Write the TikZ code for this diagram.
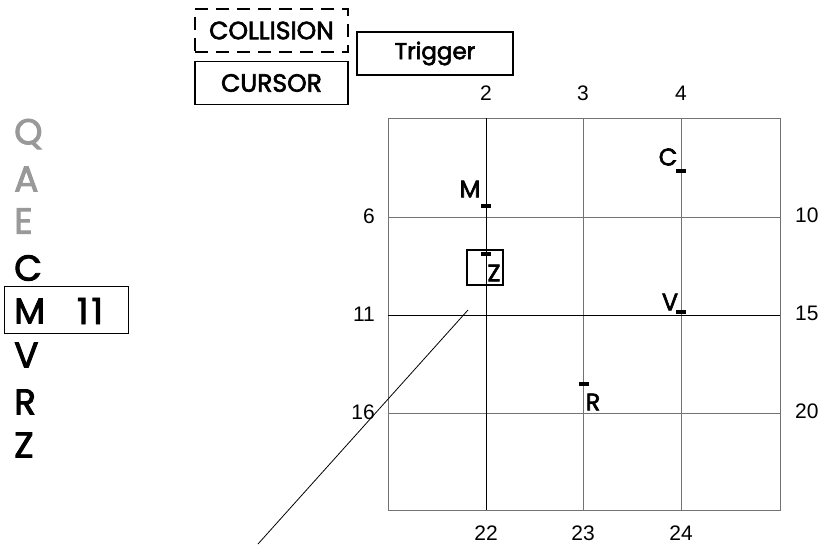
\documentclass[tikz,border=0pt]{standalone}
\usepackage{fontspec}
\setmainfont{Poppins}
\newfontfamily\medfont{Poppins}[FakeBold=2.5]
\newfontfamily\numfont{Liberation Sans}
\begin{document}
\begin{tikzpicture}[x=1pt,y=-1pt,
  gridgray/.style={draw=black!55,line width=0.9pt},
  gridblack/.style={draw=black,line width=0.9pt},
  bar/.style={fill=black,minimum width=10pt,minimum height=4pt,inner sep=0pt},
  mlabel/.style={font=\medfont\fontsize{24}{24}\selectfont,inner sep=0pt},
  num/.style={font=\numfont\fontsize{21}{21}\selectfont,inner sep=0pt},
  listitem/.style={font=\medfont\fontsize{36}{36}\selectfont,inner sep=0pt,anchor=west},
  topbox/.style={draw,line width=1.5pt,minimum width=153pt,minimum height=43pt,inner sep=0pt,font=\medfont\fontsize{25}{25}\selectfont}]
\useasboundingbox (0,0) rectangle (827,545);
% grid
\draw[gridgray] (388,118) rectangle (780,510);
\draw[gridgray] (583,118) -- (583,510);
\draw[gridgray] (681,118) -- (681,510);
\draw[gridgray] (388,217) -- (780,217);
\draw[gridgray] (388,413) -- (780,413);
\draw[gridblack] (486,118) -- (486,510);
\draw[gridblack] (388,315) -- (780,315);
% axis numbers
\node[num] (t2) at (486,93) {2};
\node[num] (t3) at (583,93) {3};
\node[num] (t4) at (681,93) {4};
\node[num] (b22) at (486,533) {22};
\node[num] (b23) at (583,533) {23};
\node[num] (b24) at (681,533) {24};
\node[num,anchor=east] (l6) at (375,216) {6};
\node[num,anchor=east] (l11) at (375,314) {11};
\node[num,anchor=east] (l16) at (375,412) {16};
\node[num,anchor=west] (r10) at (795,215) {10};
\node[num,anchor=west] (r15) at (795,313) {15};
\node[num,anchor=west] (r20) at (795,411) {20};
% markers
\node[bar] (mM) at (486,206.5) {};
\node[bar] (mZ) at (486,254.5) {};
\node[bar] (mC) at (681,171) {};
\node[bar] (mV) at (681,311.5) {};
\node[bar] (mR) at (584,384) {};
\node[mlabel] (lM) at (470,189) {M};
\node[mlabel] (lC) at (668,157) {C};
\node[mlabel] (lV) at (670,302) {V};
\node[mlabel] (lR) at (593,402) {R};
\node[mlabel] (lZ) at (494,273) {Z};
\node[draw,line width=1.5pt,minimum width=36pt,minimum height=35pt,inner sep=0pt] (zbox) at (485,267.5) {};
% diagonal line
\coordinate (d1) at (258,544);
\coordinate (d2) at (468,310);
\draw[line width=0.8pt] (d1) -- (d2);
% top boxes
\node[topbox,dash pattern=on 13pt off 8pt] (coll) at (271.5,30.5) {COLLISION};
\node[topbox] (curs) at (271.5,83) {CURSOR};
\node[topbox,minimum width=156pt,font=\medfont\fontsize{23}{23}\selectfont] (trig) at (435,53.5) {Trigger};
% left list
\node[listitem,text=black!40] (iQ) at (14,134) {Q};
\node[listitem,text=black!40] (iA) at (14,179) {A};
\node[listitem,text=black!40] (iE) at (14,221) {E};
\node[listitem] (iC) at (14,268) {C};
\node[draw,line width=1pt,minimum width=124pt,minimum height=46pt,inner sep=0pt] (mbox) at (66,310) {};
\node[listitem] (iM) at (14,311) {M};
\node[listitem,anchor=center] (i11) at (90,311) {1\kern3pt 1};
\node[listitem] (iV) at (14,355) {V};
\node[listitem] (iR) at (14,402) {R};
\node[listitem] (iZ) at (14,445) {Z};
\end{tikzpicture}
\end{document}
